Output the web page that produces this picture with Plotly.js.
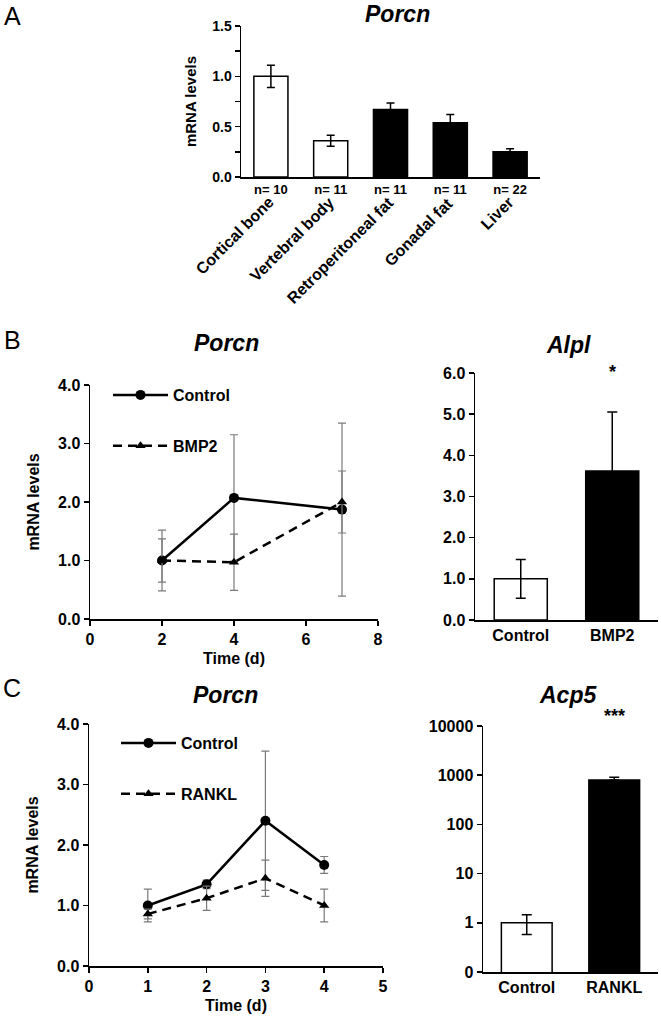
<!DOCTYPE html>
<html><head><meta charset="utf-8">
<script src="https://cdn.plot.ly/plotly-3.0.1.min.js"></script>
<style>html,body{margin:0;padding:0;background:#fff}#chart{width:661px;height:1021px}</style>
</head><body><div id="chart"></div>
<script>
// ---------- Panel A data ----------
const tissues = ['Cortical bone','Vertebral body','Retroperitoneal fat','Gonadal fat','Liver'];
const tissueN = ['n= 10','n= 11','n= 11','n= 11','n= 22'];
const porcnTissue = [1.0, 0.36, 0.67, 0.54, 0.25];
const porcnTissueErr = [0.11, 0.055, 0.065, 0.08, 0.03];

// ---------- Panel B data ----------
const bDays = [2, 4, 7];
const bControl = [1.0, 2.07, 1.87];
const bControlErr = [0.52, 1.08, 1.48];
const bBMP2 = [1.0, 0.97, 2.0];
const bBMP2Err = [0.37, 0.48, 0.53];
const alplGroups = ['Control','BMP2'];
const alplValues = [1.0, 3.62];
const alplErr = [0.47, 1.43];

// ---------- Panel C data ----------
const cDays = [1, 2, 3, 4];
const cControl = [1.0, 1.35, 2.4, 1.67];
const cControlErr = [0.27, 0.07, 1.15, 0.14];
const cRANKL = [0.86, 1.12, 1.45, 1.0];
const cRANKLErr = [0.08, 0.2, 0.3, 0.27];
const acp5Groups = ['Control','RANKL'];
const acp5Values = [1.0, 800];
const acp5ErrPlus = [0.45, 110];
const acp5ErrMinus = [0.42, 0];
const acp5TickVals = [0.1, 1, 10, 100, 1000, 10000];
const acp5TickText = ['0','1','10','100','1000','10000'];

// ---------- helpers ----------
const W = 661, H = 1021;
const px = v => v / W;
const py = v => 1 - v / H;
const FAM = 'Liberation Sans, Arial, sans-serif';
const bold = (s) => ({family: FAM, size: s, color: '#000', weight: 700});
const GRAY = '#7a7a7a';

const lineAxis = (extra) => Object.assign({
  showline: true, linecolor: '#000', linewidth: 1.5, mirror: false,
  showgrid: false, zeroline: false, ticks: 'outside', ticklen: 5, tickwidth: 1.5,
  tickcolor: '#000', automargin: false, fixedrange: true
}, extra);

const traces = [
  // A
  {type: 'bar', x: tissues, y: porcnTissue, xaxis: 'x', yaxis: 'y', width: 0.57, showlegend: false,
   marker: {color: ['#fff','#fff','#000','#000','#000'], line: {color: '#000', width: 1.5}},
   error_y: {type: 'data', array: porcnTissueErr, color: '#000', thickness: 1.5, width: 4}},
  // B left
  {type: 'scatter', mode: 'lines+markers', x: bDays, y: bControl, name: 'Control', xaxis: 'x2', yaxis: 'y2',
   legend: 'legend', legendgroup: 'b1',
   line: {color: '#000', width: 2.5}, marker: {symbol: 'circle', size: 10, color: '#000'},
   error_y: {type: 'data', array: bControlErr, color: GRAY, thickness: 1.2, width: 4}},
  {type: 'scatter', mode: 'lines+markers', x: bDays, y: bBMP2, name: 'BMP2', xaxis: 'x2', yaxis: 'y2',
   legend: 'legend', legendgroup: 'b2',
   line: {color: '#000', width: 2.5, dash: '9px,6px'}, marker: {symbol: 'triangle-up', size: 9, color: '#000'},
   error_y: {type: 'data', array: bBMP2Err, color: GRAY, thickness: 1.2, width: 4}},
  // B right
  {type: 'bar', x: alplGroups, y: alplValues, xaxis: 'x3', yaxis: 'y3', width: 0.58, showlegend: false,
   marker: {color: ['#fff','#000'], line: {color: '#000', width: 1.5}},
   error_y: {type: 'data', array: alplErr, color: '#000', thickness: 1.5, width: 5}},
  // C left
  {type: 'scatter', mode: 'lines+markers', x: cDays, y: cControl, name: 'Control', xaxis: 'x4', yaxis: 'y4',
   legend: 'legend2', legendgroup: 'c1',
   line: {color: '#000', width: 2.5}, marker: {symbol: 'circle', size: 10, color: '#000'},
   error_y: {type: 'data', array: cControlErr, color: GRAY, thickness: 1.2, width: 4}},
  {type: 'scatter', mode: 'lines+markers', x: cDays, y: cRANKL, name: 'RANKL', xaxis: 'x4', yaxis: 'y4',
   legend: 'legend2', legendgroup: 'c2',
   line: {color: '#000', width: 2.5, dash: '9px,6px'}, marker: {symbol: 'triangle-up', size: 9, color: '#000'},
   error_y: {type: 'data', array: cRANKLErr, color: GRAY, thickness: 1.2, width: 4}},
  // C right
  {type: 'bar', x: acp5Groups, y: acp5Values, xaxis: 'x5', yaxis: 'y5', width: 0.58, showlegend: false,
   marker: {color: ['#fff','#000'], line: {color: '#000', width: 1.5}},
   error_y: {type: 'data', symmetric: false, array: acp5ErrPlus, arrayminus: acp5ErrMinus, color: '#000', thickness: 1.5, width: 5}}
];

const annotations = [];
const addText = (text, x, y, font, extra) => annotations.push(Object.assign({
  text, x, y, xref: 'paper', yref: 'paper', showarrow: false, font, xanchor: 'center', yanchor: 'middle'
}, extra || {}));

const titleFont = {family: FAM, size: 23, color: '#000', weight: 700, style: 'italic'};
const letterFont = {family: FAM, size: 25, color: '#000'};
addText('A', px(12), py(16), letterFont);
addText('B', px(12), py(340), letterFont);
addText('C', px(12), py(688), letterFont);
addText('Porcn', px(397), py(14), titleFont);
addText('Porcn', px(226), py(343), titleFont);
addText('Alpl', px(568), py(345), titleFont);
addText('Porcn', px(225), py(695), titleFont);
addText('Acp5', px(568), py(695), titleFont);

// rotated tissue names
tissues.forEach(t => annotations.push({
  text: t, x: t, xref: 'x', y: py(191), yref: 'paper', showarrow: false,
  textangle: -45, xanchor: 'right', yanchor: 'top', xshift: 9, font: bold(16)
}));
// significance marks
annotations.push({text: '*', x: alplGroups[1], xref: 'x3', y: py(372), yref: 'paper', showarrow: false, font: bold(18)});
annotations.push({text: '***', x: acp5Groups[1], xref: 'x5', y: py(728), yref: 'paper', showarrow: false, font: bold(18)});

const layout = {
  width: W, height: H, margin: {l: 0, r: 0, t: 0, b: 0},
  paper_bgcolor: '#fff', plot_bgcolor: 'rgba(0,0,0,0)',
  bargap: 0.4,
  font: {family: FAM, color: '#000'},
  annotations,
  // A
  xaxis: lineAxis({domain: [px(241), px(540)], anchor: 'y', type: 'category', range: [-0.5, 4.5],
    tickvals: tissues, ticktext: tissueN, ticks: '', tickfont: bold(13)}),
  yaxis: lineAxis({domain: [py(177), py(26)], anchor: 'x', range: [0, 1.5], dtick: 0.5, tickformat: '.1f',
    tickfont: bold(14), minor: {dtick: 0.25, ticks: 'outside', ticklen: 5, tickwidth: 1.5, tickcolor: '#000', showgrid: false},
    title: {text: 'mRNA levels', font: bold(15), standoff: 12}}),
  // B left
  xaxis2: lineAxis({domain: [px(90), px(378)], anchor: 'y2', range: [0, 8], dtick: 2, tickfont: bold(16),
    title: {text: 'Time (d)', font: bold(16), standoff: 6}}),
  yaxis2: lineAxis({domain: [py(619), py(385)], anchor: 'x2', range: [0, 4], dtick: 1, tickformat: '.1f', tickfont: bold(16),
    title: {text: 'mRNA levels', font: bold(16), standoff: 14}}),
  // B right
  xaxis3: lineAxis({domain: [px(475), px(658)], anchor: 'y3', type: 'category', range: [-0.5, 1.5], ticks: '', tickfont: bold(16)}),
  yaxis3: lineAxis({domain: [py(620), py(373)], anchor: 'x3', range: [0, 6], dtick: 1, tickformat: '.1f', tickfont: bold(16)}),
  // C left
  xaxis4: lineAxis({domain: [px(89), px(383)], anchor: 'y4', range: [0, 5], dtick: 1, tickfont: bold(16),
    title: {text: 'Time (d)', font: bold(16), standoff: 6}}),
  yaxis4: lineAxis({domain: [py(966), py(724)], anchor: 'x4', range: [0, 4], dtick: 1, tickformat: '.1f', tickfont: bold(16),
    title: {text: 'mRNA levels', font: bold(16), standoff: 14}}),
  // C right
  xaxis5: lineAxis({domain: [px(483), px(658)], anchor: 'y5', type: 'category', range: [-0.5, 1.5], ticks: '', tickfont: bold(16)}),
  yaxis5: lineAxis({domain: [py(972), py(726)], anchor: 'x5', type: 'log', range: [-1, 4],
    tickvals: acp5TickVals, ticktext: acp5TickText, tickfont: bold(16)}),
  legend: {x: px(108), y: py(378), xanchor: 'left', yanchor: 'top', bgcolor: 'rgba(0,0,0,0)',
    font: bold(16), traceorder: 'grouped', tracegroupgap: 27, itemwidth: 55},
  legend2: {x: px(116), y: py(726), xanchor: 'left', yanchor: 'top', bgcolor: 'rgba(0,0,0,0)',
    font: bold(16), traceorder: 'grouped', tracegroupgap: 27, itemwidth: 55}
};

Plotly.newPlot('chart', traces, layout, {displayModeBar: false, staticPlot: true});
</script>
</body></html>
